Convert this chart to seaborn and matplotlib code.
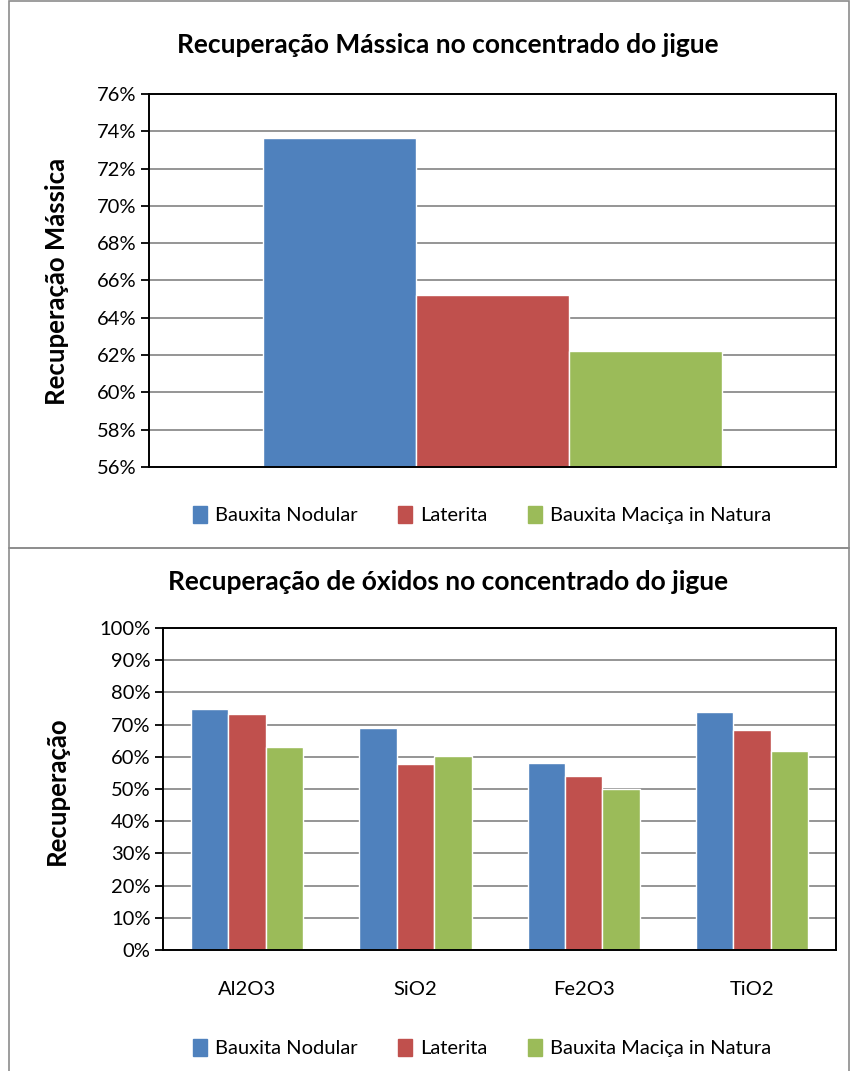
import pandas as pd
import seaborn as sns
import matplotlib.pyplot as plt
from matplotlib.patches import Rectangle
from matplotlib.ticker import PercentFormatter

# data
series = ["Bauxita Nodular", "Laterita", "Bauxita Maciça in Natura"]
colors = ["#4F81BD", "#C0504D", "#9BBB59"]

mass_recovery = [73.65, 65.22, 62.22]

oxides = ["Al2O3", "SiO2", "Fe2O3", "TiO2"]
nodular = [74.8, 68.9, 58.1, 73.9]
laterita = [73.3, 57.8, 54.0, 68.3]
macica = [63.0, 60.2, 50.0, 61.8]

df_top = pd.DataFrame({"cat": [""] * 3, "Serie": series, "val": mass_recovery})
df_bot = pd.DataFrame({
    "Oxido": oxides * 3,
    "Serie": [series[0]] * 4 + [series[1]] * 4 + [series[2]] * 4,
    "val": nodular + laterita + macica,
})

sns.set_theme(style="white")
plt.rcParams["font.family"] = ["Lato", "DejaVu Sans"]
plt.rcParams["text.color"] = "black"
plt.rcParams["xtick.labelcolor"] = "black"
plt.rcParams["ytick.labelcolor"] = "black"

fig = plt.figure(figsize=(8.5, 10.71), dpi=100)
palette = dict(zip(series, colors))
FS = 14.5


def style_axes(ax, ticks):
    ax.set_yticks(ticks)
    ax.yaxis.set_major_formatter(PercentFormatter(decimals=0))
    ax.grid(axis="y", color="#8c8c8c", linewidth=1.3)
    ax.set_axisbelow(True)
    for s in ax.spines.values():
        s.set_color("black")
        s.set_linewidth(1.4)
    ax.tick_params(axis="y", left=True, length=6, width=1.3, color="black",
                   labelsize=FS, labelcolor="black", pad=3)
    ax.tick_params(axis="x", bottom=False, labelsize=FS, labelcolor="black", pad=16)
    ax.set_xlabel("")
    ax.set_ylabel("")
    if ax.get_legend() is not None:
        ax.get_legend().remove()


# top chart
ax1 = fig.add_axes([0.1753, 0.5640, 0.8082, 0.3483])
sns.barplot(data=df_top, x="cat", y="val", hue="Serie", palette=palette,
            width=0.667, gap=0, saturation=1, ax=ax1)
ax1.set_ylim(56, 76)
ax1.set_xlim(-0.5, 0.5)
style_axes(ax1, range(56, 77, 2))
ax1.set_xticklabels([])
fig.text(0.067, 0.737, "Recuperação Mássica", rotation=90, ha="center",
         va="center", fontsize=18.5, fontweight="bold")
fig.text(0.527, 0.958, "Recuperação Mássica no concentrado do jigue",
         ha="center", va="center", fontsize=19, fontweight="bold")

# bottom chart
ax2 = fig.add_axes([0.1918, 0.1130, 0.7918, 0.3006])
sns.barplot(data=df_bot, x="Oxido", y="val", hue="Serie", palette=palette,
            width=0.667, gap=0, saturation=1, ax=ax2)
ax2.set_ylim(0, 100)
style_axes(ax2, range(0, 101, 10))
fig.text(0.067, 0.262, "Recuperação", rotation=90, ha="center",
         va="center", fontsize=18.5, fontweight="bold")
fig.text(0.527, 0.4566, "Recuperação de óxidos no concentrado do jigue",
         ha="center", va="center", fontsize=19, fontweight="bold")

# legends
handles = [Rectangle((0, 0), 1, 1, color=c) for c in colors]
for y in (0.519, 0.0215):
    fig.legend(handles, series, loc="center", bbox_to_anchor=(0.567, y),
               ncol=3, frameon=False, fontsize=FS, handlelength=0.7,
               handleheight=0.9, handletextpad=0.4, columnspacing=2.0)

# chart area borders
fig.add_artist(Rectangle((0.011, 0.488), 0.988, 0.511, fill=False,
                         edgecolor="#8c8c8c", linewidth=1.2,
                         transform=fig.transFigure))
fig.add_artist(Rectangle((0.011, -0.01), 0.988, 0.498, fill=False,
                         edgecolor="#8c8c8c", linewidth=1.2,
                         transform=fig.transFigure))

fig.savefig("out.png", dpi=100)
